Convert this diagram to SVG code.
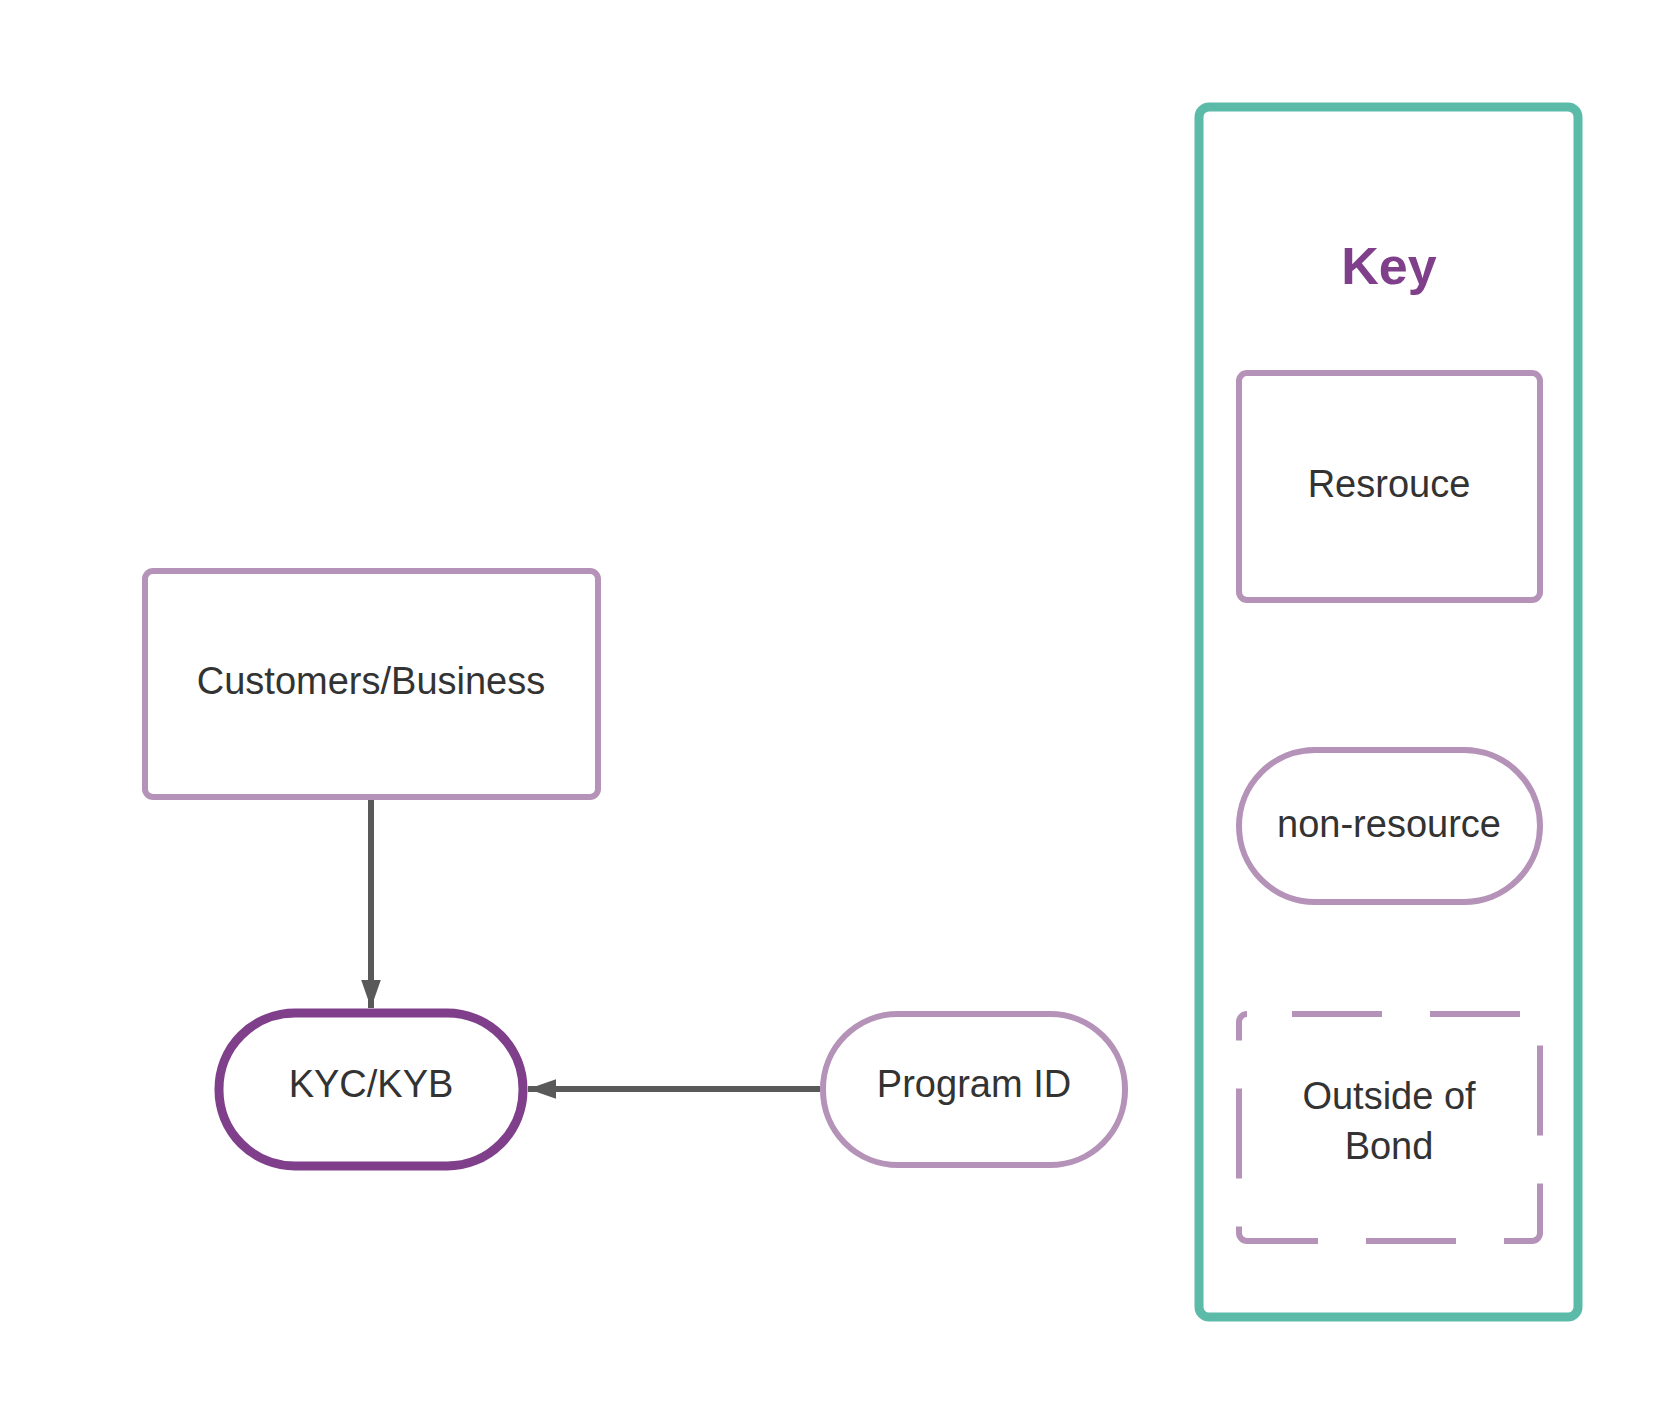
<svg xmlns="http://www.w3.org/2000/svg" width="1663" height="1408" viewBox="0 0 1663 1408">
<style>
.n{fill:#fff;stroke:#B592B8;stroke-width:6}
.t{font-family:"Liberation Sans",Arial,sans-serif;font-size:38px;fill:#333;text-anchor:middle;dominant-baseline:central}
.c{stroke:#595959;stroke-width:6;fill:none}
</style>
<defs><marker id="a" markerUnits="userSpaceOnUse" markerWidth="28" markerHeight="42" refX="40" refY="14" viewBox="0 0 40 28" orient="auto"><path d="M0,0L40,14L0,28Z" fill="#595959"/></marker></defs>
<rect width="1663" height="1408" fill="#fff"/>
<g id="key">
<rect x="1199" y="107" width="379" height="1210" rx="10" fill="#fff" stroke="#5BBAA8" stroke-width="9"/>
<text x="1389" y="266" class="t" style="font-size:52px;font-weight:bold;fill:#7F3F8A">Key</text>
</g>
<g id="key-resource"><rect class="n" x="1239" y="373" width="301" height="227" rx="8"/><text class="t" x="1389" y="484">Resrouce</text></g>
<g id="key-nonresource"><rect class="n" x="1239" y="750" width="301" height="152" rx="76"/><text class="t" x="1389" y="824">non-resource</text></g>
<g id="key-outside"><rect class="n" x="1239" y="1014" width="301" height="227" rx="8" stroke-dasharray="90 48" stroke-dashoffset="-45"/><text class="t" x="1389" y="1096">Outside of</text><text class="t" x="1389" y="1146">Bond</text></g>
<g id="customers"><rect class="n" x="145" y="571" width="453" height="226" rx="8"/><text class="t" x="371" y="681">Customers/Business</text></g>
<g id="kyc"><rect class="n" x="219" y="1013" width="304" height="153" rx="76" style="stroke:#7F3F8A;stroke-width:9"/><text class="t" x="371" y="1084">KYC/KYB</text></g>
<g id="program"><rect class="n" x="823" y="1014" width="302" height="151" rx="75"/><text class="t" x="974" y="1084">Program ID</text></g>
<g id="connectors">
<path class="c" d="M371,800V1008" marker-end="url(#a)"/>
<path class="c" d="M820,1089H528" marker-end="url(#a)"/>
</g>
</svg>
